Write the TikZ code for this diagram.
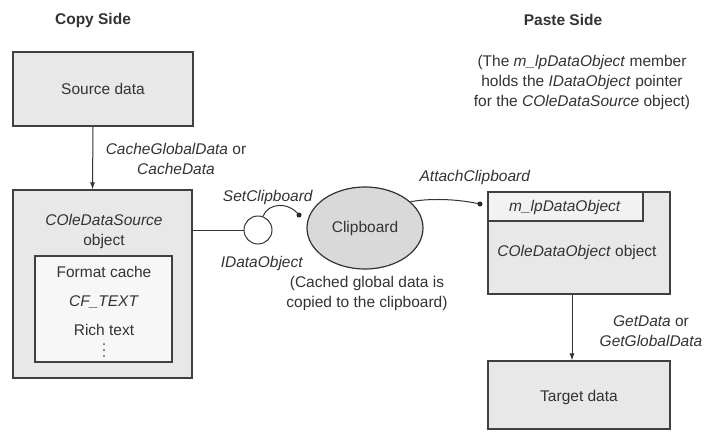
\documentclass[tikz,border=0pt]{standalone}
\usepackage{fontspec}
\setmainfont{Liberation Sans}
\usetikzlibrary{shapes.geometric,arrows.meta,calc}
\begin{document}
\begin{tikzpicture}[x=1pt,y=-1pt,
  font=\fontsize{15.5}{20}\selectfont,
  txt/.style={text=black!80, inner sep=0pt},
  graybox/.style={draw=black!75, line width=1.2pt, fill=black!9, inner sep=0pt},
  innerbox/.style={draw=black!75, line width=1.2pt, fill=black!3, inner sep=0pt},
  conn/.style={draw=black!80, line width=1pt},
  arr/.style={conn, -{Latex[length=7pt,width=5pt]}},
  enddot/.style={circle, fill=black!85, inner sep=0pt, minimum size=5pt},
  smalldot/.style={circle, fill=black!70, inner sep=0pt, minimum size=2pt},
  hdr/.style={txt, font=\fontsize{15.5}{20}\selectfont\bfseries}
]
\useasboundingbox (0,0) rectangle (710,432);
\fill[white] (0,0) rectangle (710,432);

% headings
\node[hdr] (copyside) at (93,20) {Copy Side};
\node[hdr] (pasteside) at (563,20) {Paste Side};
\node[txt, align=center] (note) at (582,82) {(The \textit{m\_lpDataObject} member\\holds the \textit{IDataObject} pointer\\for the \textit{COleDataSource} object)};

% copy side
\node[graybox, minimum width=180pt, minimum height=74pt] (src) at (103,89) {};
\node[txt] (srclbl) at (103,89) {Source data};

\node[graybox, minimum width=179pt, minimum height=188pt] (cds) at (102.5,284) {};
\node[txt, align=center] (cdslbl) at (104,231) {\textit{COleDataSource}\\object};
\node[innerbox, minimum width=137pt, minimum height=106pt] (fmt) at (103.5,309) {};
\node[txt] (fmtlbl) at (104,272) {Format cache};
\node[txt] (cftext) at (104,302) {\textit{CF\_TEXT}};
\node[txt] (rich) at (104,330) {Rich text};
\node[smalldot] (v1) at (104,344) {};
\node[smalldot] (v2) at (104,350) {};
\node[smalldot] (v3) at (104,356) {};

\draw[arr] ([xshift=-10pt]src.south) -- ([xshift=-10pt]cds.north);
\node[txt, align=center] (cachelbl) at (176,159) {\textit{CacheGlobalData} or\\\textit{CacheData}};

% interface circle
\node[circle, draw=black!80, line width=1pt, fill=white, minimum size=28pt, inner sep=0pt] (iface) at (258,230) {};
\draw[conn] (cds.east |- iface.west) -- (iface.west);
\node[txt] (setcb) at (268,197) {\textit{SetClipboard}};
\node[txt] (idobj) at (262,263) {\textit{IDataObject}};
\node[enddot] (d1) at (299,215) {};
\draw[conn] (iface.70) .. controls (268,203) and (288,201) .. (d1.center);

% clipboard
\node[ellipse, draw=black!80, line width=1.2pt, fill=black!15, minimum width=116pt, minimum height=82pt, inner sep=0pt] (clip) at (365,228) {};
\node[txt] (cliplbl) at (365,228) {Clipboard};
\node[txt, align=center] (cached) at (367,293) {(Cached global data is\\copied to the clipboard)};

% paste side
\node[graybox, minimum width=182pt, minimum height=102pt] (cdo) at (579,243) {};
\node[innerbox, fill=black!5, minimum width=155pt, minimum height=29pt] (mlp) at (565.5,206.5) {};
\node[txt] (mlplbl) at (565,207) {\textit{m\_lpDataObject}};
\node[txt] (cdolbl) at (577,252) {\textit{COleDataObject} object};

\node[enddot] (d2) at (480,204) {};
\draw[conn] (clip.30) .. controls (430,198) and (458,199) .. (d2.center);
\node[txt] (attach) at (475,177) {\textit{AttachClipboard}};

\node[graybox, minimum width=182pt, minimum height=68pt] (tgt) at (579,395) {};
\node[txt] (tgtlbl) at (579,397) {Target data};
\draw[arr] ([xshift=-7pt]cdo.south) -- ([xshift=-7pt]tgt.north);
\node[txt, align=center] (getlbl) at (651,331) {\textit{GetData} or\\\textit{GetGlobalData}};
\end{tikzpicture}
\end{document}
